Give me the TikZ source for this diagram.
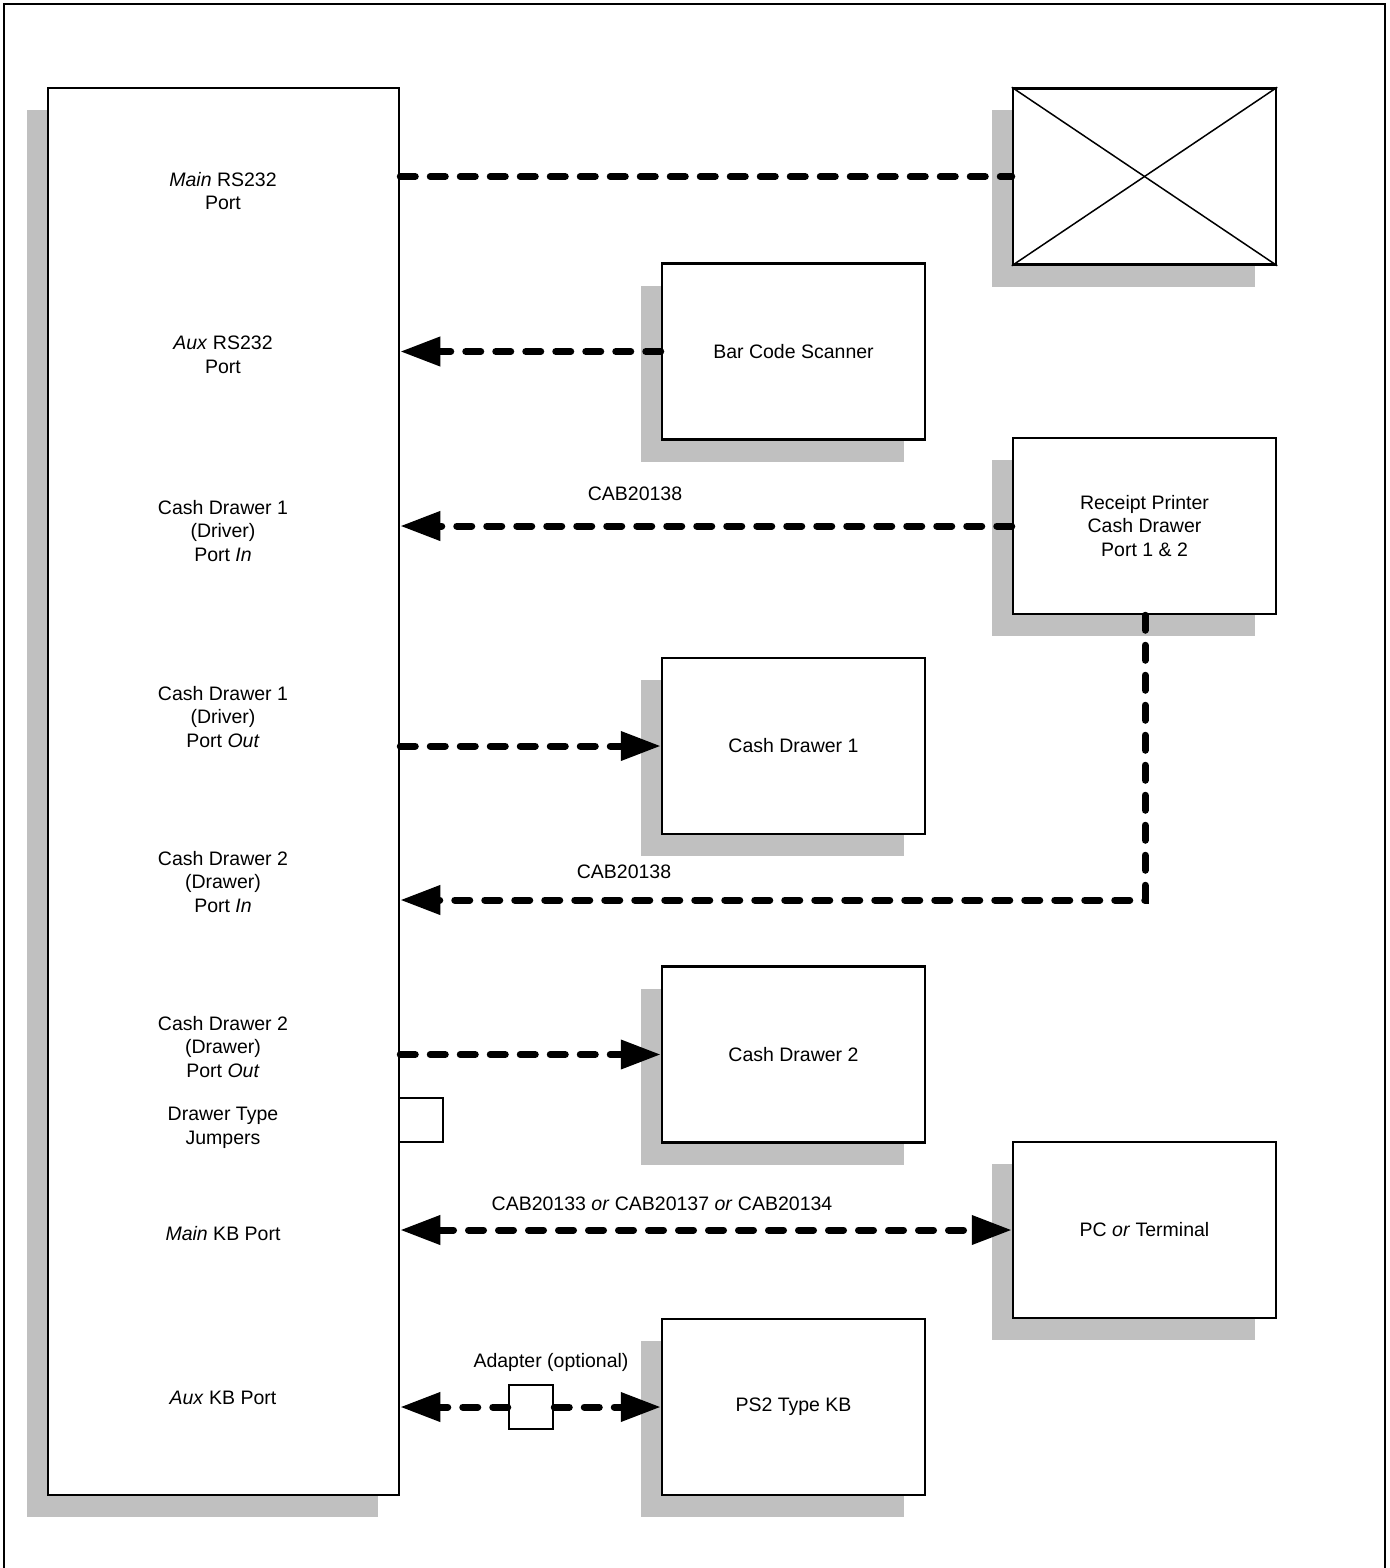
\documentclass[tikz,border=0pt]{standalone}
\usepackage{fontspec}
\setmainfont{Liberation Sans}
\usetikzlibrary{arrows.meta,shadows}
\definecolor{shadowgray}{HTML}{C0C0C0}

\begin{document}
\begin{tikzpicture}[x=1pt,y=-1pt,
    every node/.style={font=\fontsize{19.5}{23.5}\selectfont, align=center, inner sep=0pt},
    unit/.style={draw, line width=2.5pt, fill=white, minimum width=263pt, minimum height=176pt,
        drop shadow={shadow xshift=-21pt, shadow yshift=-22pt, fill=shadowgray, draw=none, opacity=1}},
    jumper/.style={draw, line width=2.5pt, fill=white, minimum size=44pt},
    cable/.style={line width=7pt, line cap=round, dash pattern=on 15pt off 15pt},
    tip/.style={-{Triangle[length=40pt,width=28pt]}}]
    \useasboundingbox (0,0) rectangle (1389,1568);
    \draw[line width=2.5pt] (4,1570) -- (4,4) -- (1385,4) -- (1385,1570);

    % controller
    \node[unit, minimum width=351pt, minimum height=1407pt] (ctrl) at (223.5,791.5) {};
    \node (mainport) at (223,191) {\textit{Main} RS232\\Port};
    \node (auxport) at (223,355) {\textit{Aux} RS232\\Port};
    \node (cdoneinlbl) at (223,531) {Cash Drawer 1\\(Driver)\\Port \textit{In}};
    \node (cdoneoutlbl) at (223,717) {Cash Drawer 1\\(Driver)\\Port \textit{Out}};
    \node (cdtwoinlbl) at (223,882) {Cash Drawer 2\\(Drawer)\\Port \textit{In}};
    \node (cdtwooutlbl) at (223,1047) {Cash Drawer 2\\(Drawer)\\Port \textit{Out}};
    \node (jumperlbl) at (223,1128) {Drawer Type\\Jumpers};
    \node (mainkb) at (223,1234) {\textit{Main} KB Port};
    \node (auxkb) at (223,1398) {\textit{Aux} KB Port};
    \node[jumper] (jumpers) at (421,1120) {};

    % devices
    \node[unit] (xbox) at (1144.5,176.5) {};
    \draw[line width=1.5pt] (xbox.north west) -- (xbox.south east);
    \draw[line width=1.5pt] (xbox.south west) -- (xbox.north east);
    \node[unit] (scanner) at (793.5,351.5) {Bar Code Scanner};
    \node[unit] (printer) at (1144.5,526) {Receipt Printer\\Cash Drawer\\Port 1 \& 2};
    \node[unit] (drawerone) at (793.5,746) {Cash Drawer 1};
    \node[unit] (drawertwo) at (793.5,1054.5) {Cash Drawer 2};
    \node[unit] (pc) at (1144.5,1230) {PC \textit{or} Terminal};
    \node[unit] (kb) at (793.5,1407) {PS2 Type KB};
    \node[jumper] (adapter) at (531,1407) {};

    % cables
    \draw[cable] (ctrl.east |- xbox.west) -- (xbox.west);
    \draw[cable, tip] (scanner.west) -- (ctrl.east |- scanner.west);
    \draw[cable, tip] (printer.west) -- (ctrl.east |- printer.west);
    \node (cabone) at (635,494) {CAB20138};
    \draw[cable, tip] (ctrl.east |- drawerone.west) -- (drawerone.west);
    \coordinate (bend) at (1145,900);
    \draw[cable, tip] (printer.south -| bend) -- (bend) -- (ctrl.east |- bend);
    \node (cabtwo) at (624,872) {CAB20138};
    \draw[cable, tip] (ctrl.east |- drawertwo.west) -- (drawertwo.west);
    \draw[cable, {Triangle[length=40pt,width=28pt]}-{Triangle[length=40pt,width=28pt]}] (ctrl.east |- pc.west) -- (pc.west);
    \node (cabkb) at (662,1204) {CAB20133 \textit{or} CAB20137 \textit{or} CAB20134};
    \draw[cable, tip] (adapter.west) -- (ctrl.east |- adapter.west);
    \draw[cable, tip] (adapter.east) -- (kb.west);
    \node (adapterlbl) at (551,1362) {Adapter (optional)};
\end{tikzpicture}
\end{document}
